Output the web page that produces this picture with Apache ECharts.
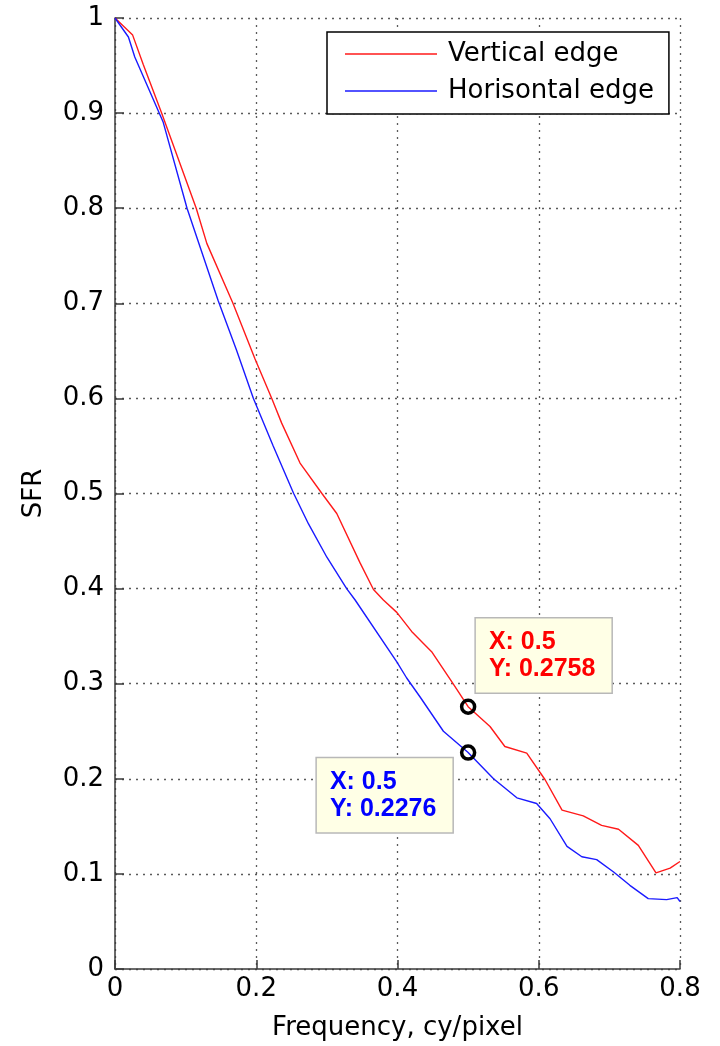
<!DOCTYPE html>
<html><head><meta charset="utf-8">
<script src="https://cdn.jsdelivr.net/npm/echarts@6/dist/echarts.min.js"></script>
<style>html,body{margin:0;padding:0;background:#fff}#c{width:720px;height:1046px}</style>
</head><body><div id="c"></div><script>
const seriesNames = ['Vertical edge', 'Horisontal edge'];
const verticalX = [0, 0.025, 0.040, 0.066, 0.115, 0.130, 0.167, 0.198, 0.222, 0.236, 0.262, 0.293, 0.314, 0.347, 0.366, 0.380, 0.399, 0.420, 0.449, 0.477, 0.5, 0.531, 0.552, 0.583, 0.609, 0.633, 0.663, 0.689, 0.713, 0.741, 0.766, 0.786, 0.800];
const verticalY = [1, 0.982, 0.951, 0.900, 0.800, 0.763, 0.700, 0.642, 0.600, 0.574, 0.532, 0.500, 0.479, 0.427, 0.399, 0.388, 0.375, 0.355, 0.333, 0.302, 0.2758, 0.255, 0.234, 0.227, 0.199, 0.167, 0.161, 0.151, 0.147, 0.130, 0.101, 0.106, 0.113];
const horizontalX = [0, 0.019, 0.028, 0.045, 0.068, 0.102, 0.146, 0.172, 0.196, 0.224, 0.253, 0.274, 0.300, 0.328, 0.340, 0.399, 0.413, 0.432, 0.465, 0.5, 0.536, 0.569, 0.597, 0.616, 0.640, 0.661, 0.682, 0.706, 0.729, 0.755, 0.781, 0.796, 0.800];
const horizontalY = [1, 0.980, 0.959, 0.930, 0.891, 0.800, 0.703, 0.651, 0.600, 0.550, 0.500, 0.468, 0.433, 0.400, 0.388, 0.323, 0.306, 0.286, 0.250, 0.2276, 0.200, 0.180, 0.174, 0.158, 0.129, 0.118, 0.115, 0.102, 0.088, 0.074, 0.073, 0.075, 0.071];
const tipX = [0.5, 0.5];
const tipY = [0.2758, 0.2276];
const xTicks = [0, 0.2, 0.4, 0.6, 0.8];
const yTicks = [0, 0.1, 0.2, 0.3, 0.4, 0.5, 0.6, 0.7, 0.8, 0.9, 1];

const colors = ['#ff1a1a', '#1a1aff'];
const FONT = 'DejaVu Sans';
const pair = (xs, ys) => xs.map((x, i) => [x, ys[i]]);

const axisCommon = {
  type: 'value',
  axisLine: { onZero: false, lineStyle: { color: '#3a3a3a', width: 1.5 } },
  axisTick: { inside: true, length: 9, lineStyle: { color: '#3a3a3a', width: 1.5 } },
  splitLine: { show: true, lineStyle: { color: '#5a5a5a', type: [2, 5], width: 1.3 } },
  nameLocation: 'middle',
  nameTextStyle: { fontFamily: FONT, fontSize: 26, color: '#000' }
};

function tipLabel(i, pos) {
  return {
    show: true,
    formatter: 'X: ' + tipX[i] + '\nY: ' + tipY[i],
    position: pos,
    align: 'left',
    verticalAlign: 'top',
    color: i === 0 ? '#ff0000' : '#0000ff',
    fontFamily: 'Liberation Sans',
    fontWeight: 'bold',
    fontSize: 25,
    lineHeight: 27,
    backgroundColor: '#ffffe6',
    borderColor: '#b8b8b8',
    borderWidth: 1.5,
    padding: [10, 16, 10, 13]
  };
}

function mk(i, pos) {
  return {
    symbol: 'circle',
    symbolSize: 13,
    itemStyle: { color: 'rgba(0,0,0,0)', borderColor: '#000', borderWidth: 3.5 },
    label: tipLabel(i, pos),
    data: [{ coord: [tipX[i], tipY[i]] }],
    z: 10
  };
}

const chart = echarts.init(document.getElementById('c'), null, { renderer: 'canvas' });
chart.setOption({
  animation: false,
  backgroundColor: '#fff',
  grid: { left: 115, right: 40, top: 18, bottom: 77, containLabel: false },
  xAxis: Object.assign({}, axisCommon, {
    min: xTicks[0], max: xTicks[xTicks.length - 1], interval: 0.2,
    axisLabel: { fontFamily: FONT, fontSize: 26, color: '#000', margin: 7, showMaxLabel: true, showMinLabel: true },
    name: 'Frequency, cy/pixel', nameGap: 46
  }),
  yAxis: Object.assign({}, axisCommon, {
    min: yTicks[0], max: yTicks[yTicks.length - 1], interval: 0.1,
    axisLabel: { fontFamily: FONT, fontSize: 26, color: '#000', margin: 11 },
    name: 'SFR', nameGap: 68
  }),
  legend: {
    data: seriesNames,
    orient: 'vertical',
    left: 327, top: 32,
    icon: 'rect',
    itemWidth: 92, itemHeight: 1.5, itemGap: 9,
    padding: [8, 15, 9, 18],
    borderColor: '#000', borderWidth: 1.5,
    backgroundColor: '#fff',
    textStyle: { fontFamily: FONT, fontSize: 26, lineHeight: 28, color: '#000', padding: [0, 0, 0, 6] }
  },
  series: [
    {
      name: seriesNames[0], type: 'line', data: pair(verticalX, verticalY),
      symbol: 'none', showSymbol: false, color: colors[0],
      lineStyle: { color: colors[0], width: 1.4 },
      markPoint: mk(0, [16, -80])
    },
    {
      name: seriesNames[1], type: 'line', data: pair(horizontalX, horizontalY),
      symbol: 'none', showSymbol: false, color: colors[1],
      lineStyle: { color: colors[1], width: 1.4 },
      markPoint: mk(1, [-143, 14])
    }
  ]
});
</script></body></html>
